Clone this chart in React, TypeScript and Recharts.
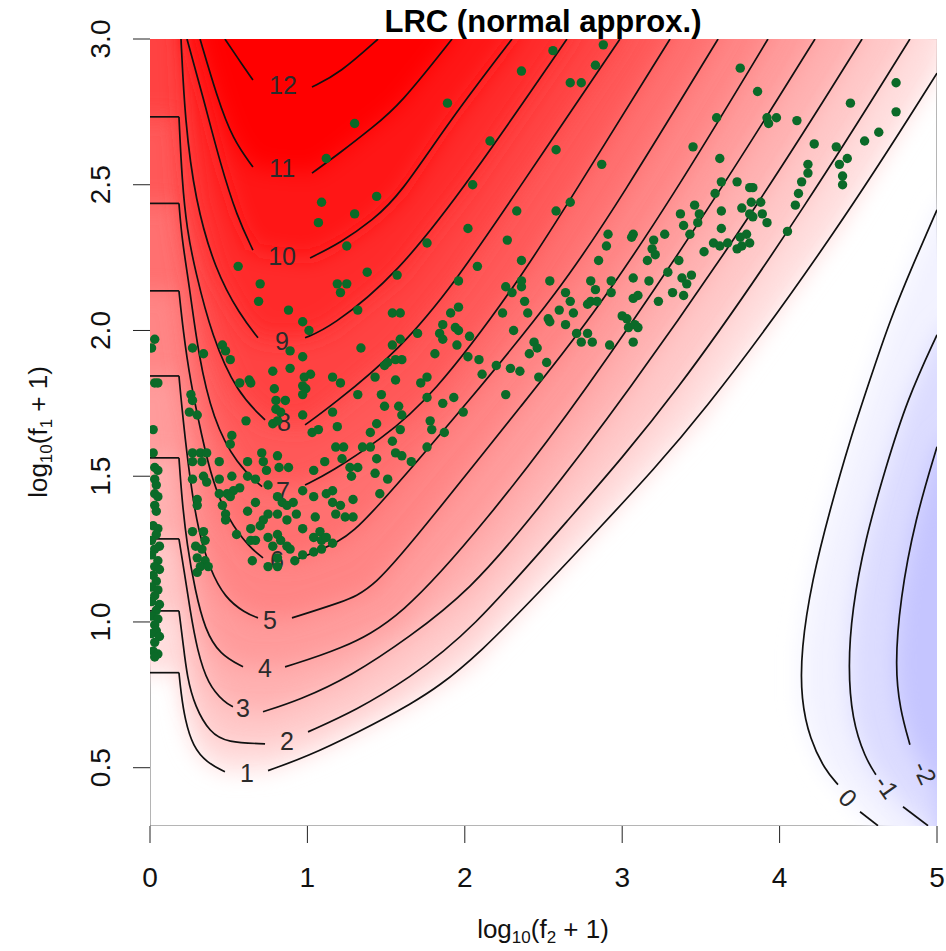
import { ScatterChart, Scatter, XAxis, YAxis, ReferenceArea } from "recharts";

type Pt = [number, number];

const xTicks = [0, 1, 2, 3, 4, 5];
const yTicks = [0.5, 1, 1.5, 2, 2.5, 3];

// contour levels of the LRC surface
const posLevels = [1, 2, 3, 4, 5, 6, 7, 8, 9, 10, 11, 12];
const negLevels = [0, -1, -2];

// contours 1..8 jump at the first grid column (f2 = 0)
const stepY = [0.826, 1.038, 1.285, 1.563, 1.844, 2.136, 2.436, 2.733];
const stepX = 0.184;

// each contour: part before its label, part after it
const c1a: Pt[] = [[0.184, 0.826], [0.197, 0.757], [0.222, 0.665], [0.273, 0.572], [0.362, 0.517], [0.476, 0.486]];
const c1b: Pt[] = [[0.75, 0.49], [0.997, 0.538], [1.315, 0.62], [1.633, 0.709], [2.033, 0.846], [2.903, 1.35], [3.494, 1.693], [4.384, 2.355], [5.0, 2.883]];
const c2a: Pt[] = [[0.184, 1.038], [0.21, 0.929], [0.235, 0.812], [0.286, 0.709], [0.381, 0.62], [0.489, 0.586], [0.731, 0.582]];
const c2b: Pt[] = [[1.004, 0.623], [1.315, 0.699], [1.633, 0.802], [2.033, 0.963], [2.656, 1.35], [3.323, 1.762], [4.193, 2.448], [4.828, 3.0]];
const c3a: Pt[] = [[0.184, 1.285], [0.216, 1.179], [0.254, 1.042], [0.299, 0.905], [0.368, 0.785], [0.476, 0.723], [0.527, 0.709]];
const c3b: Pt[] = [[0.718, 0.692], [0.953, 0.733], [1.271, 0.812], [1.652, 0.949], [2.033, 1.11], [2.414, 1.35], [3.005, 1.762], [3.888, 2.448], [4.524, 3.0]];
const c4a: Pt[] = [[0.184, 1.563], [0.203, 1.419], [0.235, 1.265], [0.286, 1.11], [0.349, 0.973], [0.445, 0.887], [0.591, 0.846]];
const c4b: Pt[] = [[0.858, 0.846], [1.207, 0.905], [1.588, 1.008], [2.141, 1.35], [2.732, 1.762], [3.59, 2.448], [4.225, 3.0]];
const c5a: Pt[] = [[0.184, 1.844], [0.21, 1.693], [0.254, 1.488], [0.305, 1.316], [0.381, 1.179], [0.476, 1.083], [0.604, 1.031], [0.686, 1.014]];
const c5b: Pt[] = [[0.902, 1.014], [1.207, 1.066], [1.417, 1.11], [1.779, 1.35], [2.389, 1.762], [2.795, 2.036], [3.31, 2.448], [3.926, 3.0]];
const c6a: Pt[] = [[0.184, 2.136], [0.21, 2.002], [0.254, 1.831], [0.33, 1.635], [0.394, 1.488], [0.496, 1.35], [0.635, 1.254], [0.718, 1.22]];
const c6b: Pt[] = [[0.921, 1.213], [1.207, 1.272], [1.379, 1.35], [2.033, 1.762], [2.605, 2.139], [2.986, 2.448], [3.609, 3.0]];
const c7a: Pt[] = [[0.184, 2.436], [0.203, 2.311], [0.254, 2.139], [0.305, 1.923], [0.4, 1.693], [0.553, 1.539], [0.712, 1.464]];
const c7b: Pt[] = [[0.985, 1.47], [1.144, 1.512], [1.461, 1.625], [1.779, 1.762], [2.351, 2.174], [2.668, 2.448], [3.304, 3.0]];
const c8a: Pt[] = [[0.184, 2.733], [0.203, 2.516], [0.235, 2.345], [0.286, 2.208], [0.394, 1.978], [0.553, 1.786], [0.731, 1.693]];
const c8b: Pt[] = [[0.985, 1.676], [1.144, 1.738], [1.588, 1.933], [1.95, 2.174], [2.294, 2.448], [2.986, 3.0]];
const c9a: Pt[] = [[0.197, 3.0], [0.222, 2.722], [0.286, 2.448], [0.413, 2.208], [0.572, 2.053], [0.686, 1.975]];
const c9b: Pt[] = [[0.985, 1.975], [1.144, 2.009], [1.569, 2.191], [2.033, 2.516], [2.649, 3.0]];
const c10a: Pt[] = [[0.235, 3.0], [0.337, 2.801], [0.445, 2.575], [0.553, 2.39], [0.654, 2.276]];
const c10b: Pt[] = [[1.017, 2.249], [1.207, 2.3], [1.417, 2.379], [1.588, 2.465], [1.906, 2.722], [2.3, 3.0]];
const c11a: Pt[] = [[0.318, 3.0], [0.426, 2.801], [0.527, 2.654], [0.654, 2.561]];
const c11b: Pt[] = [[1.029, 2.54], [1.207, 2.609], [1.417, 2.698], [1.588, 2.774], [1.919, 3.0]];
const c12a: Pt[] = [[0.476, 3.0], [0.553, 2.938], [0.654, 2.859]];
const c12b: Pt[] = [[1.029, 2.835], [1.207, 2.883], [1.449, 3.0]];

const n0a: Pt[] = [[5.0, 2.414], [4.86, 2.242], [4.701, 2.036], [4.574, 1.831], [4.447, 1.625], [4.32, 1.385], [4.206, 1.145], [4.136, 0.905], [4.136, 0.733], [4.193, 0.596], [4.288, 0.493], [4.371, 0.442]];
const n0b: Pt[] = [[4.511, 0.349], [4.625, 0.301]];
const n1a: Pt[] = [[5.0, 1.985], [4.809, 1.762], [4.67, 1.522], [4.543, 1.282], [4.46, 1.042], [4.435, 0.846], [4.46, 0.665], [4.543, 0.534], [4.612, 0.476]];
const n1b: Pt[] = [[4.784, 0.366], [4.943, 0.301]];
const n2a: Pt[] = [[5.0, 1.601], [4.86, 1.35], [4.765, 1.076], [4.733, 0.846], [4.765, 0.699], [4.828, 0.579]];
const n2b: Pt[] = [[5.0, 0.43]];

const labelText = ["1", "2", "3", "4", "5", "6", "7", "8", "9", "10", "11", "12", "0", "-1", "-2"];
const labelX = [0.616, 0.87, 0.591, 0.731, 0.762, 0.807, 0.845, 0.851, 0.839, 0.839, 0.839, 0.845, 4.435, 4.682, 4.924];
const labelY = [0.483, 0.593, 0.706, 0.843, 1.008, 1.213, 1.45, 1.687, 1.964, 2.256, 2.558, 2.842, 0.397, 0.435, 0.483];
const labelAngle = [0, 0, 0, 0, 0, 0, 0, 0, 0, 0, 0, 0, 45, 55, 65];

// observed genes (green dots)
const upperBand: Pt[] = [
  [1.3, 2.71], [1.12, 2.59], [1.44, 2.46], [1.09, 2.44], [1.3, 2.4], [1.07, 2.37], [1.25, 2.29], [0.56, 2.22],
  [2.88, 2.98], [2.56, 2.96], [2.36, 2.89], [2.83, 2.91], [2.67, 2.85], [2.74, 2.85], [1.89, 2.78], [2.16, 2.65],
  [2.58, 2.62], [2.87, 2.57], [2.05, 2.5], [2.67, 2.44], [2.33, 2.41], [2.58, 2.41], [2.02, 2.35], [1.76, 2.3],
  [2.27, 2.31], [2.08, 2.22], [2.36, 2.24],
  [3.75, 2.9], [3.86, 2.82], [3.6, 2.73], [3.92, 2.73], [3.98, 2.73], [3.93, 2.71], [4.11, 2.72], [3.45, 2.63],
  [3.62, 2.59], [4.22, 2.64], [4.36, 2.63], [4.54, 2.65], [4.63, 2.68], [4.74, 2.85], [4.74, 2.75], [4.45, 2.78],
  [4.43, 2.59], [4.38, 2.57], [4.18, 2.57], [4.18, 2.54], [4.14, 2.51], [4.4, 2.53], [4.4, 2.5], [3.63, 2.51],
  [3.73, 2.51], [3.81, 2.49], [3.83, 2.49], [4.12, 2.47], [3.59, 2.47],
];
const ridgeBand: Pt[] = [
  [3.46, 2.43], [3.82, 2.44], [3.88, 2.44], [4.1, 2.43], [3.63, 2.41], [3.76, 2.42], [3.81, 2.4], [3.37, 2.4],
  [3.39, 2.36], [3.49, 2.4], [3.48, 2.37], [3.43, 2.33], [3.83, 2.39], [3.89, 2.4], [3.92, 2.37], [4.05, 2.34],
  [3.63, 2.35], [3.58, 2.3], [3.62, 2.29], [3.67, 2.3], [3.73, 2.28], [3.75, 2.32], [3.79, 2.33], [3.81, 2.3],
  [3.76, 2.29], [3.52, 2.27], [2.91, 2.33], [2.9, 2.29], [3.07, 2.33], [3.06, 2.32], [3.2, 2.31], [3.19, 2.28],
  [3.21, 2.26], [3.16, 2.24], [3.27, 2.33], [3.36, 2.24], [3.29, 2.2], [2.85, 2.24], [2.8, 2.17], [2.83, 2.14],
  [2.93, 2.17], [2.93, 2.13], [3.07, 2.18], [3.17, 2.17], [3.38, 2.18], [3.41, 2.16], [3.44, 2.19], [3.32, 2.13],
  [3.39, 2.12], [3.23, 2.1], [3.07, 2.11], [3.1, 2.12], [2.8, 2.1], [2.84, 2.1], [2.78, 2.09], [3.0, 2.05],
  [3.03, 2.04], [3.04, 2.01], [3.08, 2.02], [3.1, 2.01], [2.78, 1.99], [2.74, 1.96], [2.81, 1.96], [2.92, 1.95],
  [3.07, 1.96],
  [1.38, 2.2], [1.57, 2.19], [1.19, 2.16], [1.25, 2.16], [1.21, 2.13], [1.32, 2.07], [1.54, 2.06], [1.59, 2.06],
  [1.34, 1.94], [1.54, 1.95], [1.59, 1.97], [1.7, 1.99], [1.86, 2.02], [1.84, 1.99], [1.94, 2.01], [1.96, 2.0],
  [1.86, 1.97], [1.95, 1.95], [2.03, 1.98], [1.96, 2.08], [1.91, 2.06], [1.96, 2.17], [2.26, 2.15], [2.3, 2.13],
  [2.36, 2.15], [2.36, 2.17], [2.38, 2.1], [2.24, 2.06], [2.4, 2.06], [2.54, 2.17], [2.64, 2.13], [2.67, 2.1],
  [2.6, 2.07], [2.69, 2.06], [2.53, 2.04], [2.54, 2.03], [2.64, 2.02], [2.71, 1.99], [2.31, 2.0], [2.44, 1.96],
  [2.46, 1.94], [2.41, 1.92], [2.52, 1.89], [2.47, 1.84], [2.29, 1.87], [2.35, 1.86], [2.2, 1.88], [2.11, 1.85],
  [2.02, 1.91], [2.09, 1.9], [1.51, 1.89], [1.56, 1.9], [1.6, 1.9], [1.49, 1.88], [1.43, 1.84], [1.56, 1.83],
  [1.16, 1.84], [1.21, 1.82], [1.32, 1.78], [1.47, 1.78], [1.49, 1.74], [1.58, 1.74], [1.6, 1.71], [1.59, 1.66],
  [1.76, 1.84], [1.72, 1.82], [1.81, 1.92], [1.76, 1.77], [1.86, 1.75], [1.93, 1.77], [1.99, 1.72], [1.78, 1.69],
  [1.79, 1.66], [1.87, 1.65], [2.26, 1.78], [1.16, 1.72], [1.19, 1.67], [1.44, 1.68], [1.4, 1.65], [1.35, 1.6],
  [1.4, 1.6], [1.18, 1.6], [1.23, 1.6], [1.22, 1.56], [1.27, 1.53], [1.32, 1.53], [1.28, 1.5], [1.44, 1.56],
  [1.43, 1.51], [1.51, 1.49], [1.54, 1.62], [1.56, 1.58], [1.6, 1.57], [1.66, 1.55], [1.76, 1.6], [1.46, 1.44],
  [1.29, 1.42], [1.16, 1.45], [1.16, 1.41], [1.21, 1.4], [1.18, 1.37], [1.24, 1.36], [1.29, 1.36],
];
const lowCluster: Pt[] = [
  [0.7, 2.16], [0.69, 2.1], [0.88, 2.07], [0.97, 2.03], [1.01, 2.0], [0.27, 1.94], [0.34, 1.92], [0.46, 1.95],
  [0.48, 1.93], [0.51, 1.9], [0.89, 1.93], [0.97, 1.91], [0.78, 1.86], [0.89, 1.87], [1.02, 1.85], [0.98, 1.84],
  [0.97, 1.81], [0.99, 1.8], [0.57, 1.82], [0.63, 1.83], [0.64, 1.82], [0.26, 1.78], [0.27, 1.76], [0.25, 1.72],
  [0.3, 1.71], [0.79, 1.8], [0.8, 1.76], [0.8, 1.73], [0.86, 1.76], [0.83, 1.72], [0.97, 1.78], [0.97, 1.71],
  [0.61, 1.69], [0.78, 1.68], [0.81, 1.69], [1.03, 1.65], [1.07, 1.66], [0.52, 1.64], [0.51, 1.61], [0.27, 1.58],
  [0.32, 1.58], [0.36, 1.58], [0.71, 1.58], [0.81, 1.57],
  [0.27, 1.55], [0.33, 1.55], [0.44, 1.55], [0.62, 1.55], [0.72, 1.55], [0.82, 1.53], [0.88, 1.53], [1.04, 1.52],
  [1.11, 1.55], [0.27, 1.49], [0.34, 1.5], [0.36, 1.48], [0.44, 1.49], [0.52, 1.5], [0.62, 1.5], [0.67, 1.49],
  [0.74, 1.52], [0.75, 1.47], [0.57, 1.46], [0.53, 1.45], [0.49, 1.44], [0.44, 1.44], [0.51, 1.43], [0.46, 1.4],
  [0.48, 1.37], [0.48, 1.35], [0.3, 1.42], [0.3, 1.4], [0.62, 1.38], [0.67, 1.41], [0.81, 1.43], [0.84, 1.41],
  [0.87, 1.4], [0.91, 1.41], [0.97, 1.45], [1.04, 1.43], [1.12, 1.44], [0.93, 1.37], [0.87, 1.35], [0.81, 1.37],
  [0.75, 1.37], [0.72, 1.35], [0.7, 1.33], [0.64, 1.32], [0.55, 1.3], [0.64, 1.28], [0.67, 1.28], [0.75, 1.29],
  [0.81, 1.3], [0.83, 1.28], [0.78, 1.26], [0.87, 1.26], [0.89, 1.25], [0.97, 1.32], [1.05, 1.36], [1.08, 1.31],
  [1.04, 1.29], [1.09, 1.28], [1.12, 1.29], [1.16, 1.27], [0.27, 1.31], [0.34, 1.31], [0.35, 1.28], [0.29, 1.26],
  [0.33, 1.25], [0.3, 1.22], [0.35, 1.21], [0.32, 1.19], [0.3, 1.17], [0.37, 1.19], [0.65, 1.21], [0.75, 1.19],
  [0.81, 1.19], [0.81, 1.22], [0.92, 1.21], [0.97, 1.23], [1.04, 1.24], [1.09, 1.25],
];
const edgeColumn: Pt[] = [
  [0.03, 1.97], [0.01, 1.94], [0.03, 1.82], [0.05, 1.82], [0.02, 1.66], [0.02, 1.58], [0.03, 1.53], [0.05, 1.52],
  [0.03, 1.49], [0.04, 1.47], [0.03, 1.44], [0.05, 1.43], [0.03, 1.4], [0.04, 1.38], [0.02, 1.33], [0.05, 1.32],
  [0.04, 1.3], [0.01, 1.28], [0.06, 1.26], [0.03, 1.25], [0.01, 1.23], [0.05, 1.21], [0.03, 1.19], [0.06, 1.18],
  [0.02, 1.16], [0.04, 1.14], [0.01, 1.12], [0.05, 1.11], [0.03, 1.09], [0.01, 1.07], [0.06, 1.06], [0.04, 1.04],
  [0.01, 1.02], [0.05, 1.01], [0.03, 0.99], [0.04, 0.97], [0.01, 0.96], [0.06, 0.95], [0.03, 0.93], [0.02, 0.9],
  [0.05, 0.89], [0.03, 0.88],
];

const posParts: [Pt[], Pt[]][] = [
  [c1a, c1b], [c2a, c2b], [c3a, c3b], [c4a, c4b], [c5a, c5b], [c6a, c6b],
  [c7a, c7b], [c8a, c8b], [c9a, c9b], [c10a, c10b], [c11a, c11b], [c12a, c12b],
];
const negParts: [Pt[], Pt[]][] = [[n0a, n0b], [n1a, n1b], [n2a, n2b]];

const FONT = "'Liberation Sans', Arial, Helvetica, sans-serif";

// white -> red for positive, white -> blue for negative
const heat = (v: number) => {
  const t = Math.min(Math.abs(v) / 11.5, 1);
  const c = Math.round(255 * (1 - t));
  return v >= 0 ? `rgb(255,${c},${c})` : `rgb(${c},${c},255)`;
};

const toRows = (pts: Pt[]) => pts.map(([x, y]) => ({ x, y }));

// regions {value >= level}, closed outside the plot so the blur has no edge inside
const posFills = posLevels.map((lv, i) => {
  const [a, b] = posParts[i];
  const pts: Pt[] = [];
  if (i < stepY.length) pts.push([-0.4, stepY[i]], [stepX, stepY[i]]);
  else pts.push([a[0][0] - 0.05, 3.4]);
  pts.push(...a, ...b);
  const last = b[b.length - 1];
  pts.push([last[0] + 0.3, 3.4], [-0.4, 3.4]);
  return { level: lv, color: heat(lv + 0.5), pts };
});
const negFills = negLevels.map((lv, i) => {
  const [a, b] = negParts[i];
  const last = b[b.length - 1];
  const pts: Pt[] = [[5.4, a[0][1] + 0.2], ...a, ...b, [last[0] + 0.1, 0.0], [5.4, 0.0]];
  return { level: lv, color: heat(lv - 0.6), pts };
});

const noDot = () => <g />;

const fillPath = (color: string) => (props: any) => {
  const pts = (props.points || []) as { x: number; y: number }[];
  if (!pts.length) return <g />;
  const d = pts.map((p, i) => `${i ? "L" : "M"}${p.x.toFixed(1)},${p.y.toFixed(1)}`).join("") + "Z";
  return <path d={d} fill={color} stroke="none" filter="url(#soften)" />;
};

const GeneDot = (p: any) => <circle cx={p.cx} cy={p.cy} r={4.7} fill="#0b6a28" />;

const LevelLabel = (p: any) => {
  const { cx, cy, payload } = p;
  return (
    <text
      x={cx}
      y={cy}
      dy={9}
      textAnchor="middle"
      fontSize={25}
      fill="#2b2b2b"
      fontFamily={FONT}
      transform={payload.angle ? `rotate(${payload.angle} ${cx} ${cy})` : undefined}
    >
      {payload.text}
    </text>
  );
};

const XTick = (p: any) => (
  <text x={p.x} y={p.y + 44} textAnchor="middle" fontSize={28} fontFamily={FONT} fill="#111">
    {p.payload.value}
  </text>
);

const YTick = (p: any) => {
  const x = p.x - 23;
  return (
    <text x={x} y={p.y} transform={`rotate(-90 ${x} ${p.y})`} textAnchor="middle" fontSize={28} fontFamily={FONT} fill="#111">
      {Number(p.payload.value).toFixed(1)}
    </text>
  );
};

const labels = labelText.map((text, i) => ({ x: labelX[i], y: labelY[i], text, angle: labelAngle[i] }));

export default function App() {
  const strokes: Pt[][] = [];
  [...posParts, ...negParts].forEach(([a, b]) => {
    if (a.length > 1) strokes.push(a);
    if (b.length > 1) strokes.push(b);
  });

  return (
    <div style={{ position: "absolute", left: 0, top: 0, width: 946, height: 951, background: "#fff" }}>
      <ScatterChart width={946} height={951} margin={{ top: 39, right: 9, left: 0, bottom: 0 }}>
        <defs>
          <filter id="soften" x="-20%" y="-20%" width="140%" height="140%">
            <feGaussianBlur stdDeviation={11} />
          </filter>
        </defs>
        <XAxis
          type="number"
          dataKey="x"
          domain={[0, 5]}
          ticks={xTicks}
          interval={0}
          allowDataOverflow
          axisLine={false}
          tickLine={{ stroke: "#222" }}
          tickSize={17}
          tickMargin={0}
          height={125}
          tick={XTick}
        />
        <YAxis
          type="number"
          dataKey="y"
          domain={[0.3, 3]}
          ticks={yTicks}
          interval={0}
          allowDataOverflow
          axisLine={false}
          tickLine={{ stroke: "#222" }}
          tickSize={17}
          tickMargin={0}
          width={150}
          tick={YTick}
        />

        {posFills.map((f) => (
          <Scatter
            key={`pf${f.level}`}
            data={toRows(f.pts)}
            line={fillPath(f.color)}
            shape={noDot}
            isAnimationActive={false}
            legendType="none"
          />
        ))}
        {negFills.map((f) => (
          <Scatter
            key={`nf${f.level}`}
            data={toRows(f.pts)}
            line={fillPath(f.color)}
            shape={noDot}
            isAnimationActive={false}
            legendType="none"
          />
        ))}

        {stepY.map((y, i) => (
          <Scatter
            key={`st${i}`}
            data={[{ x: 0, y }, { x: stepX, y }]}
            line={{ stroke: "#111", strokeWidth: 1.7 }}
            shape={noDot}
            isAnimationActive={false}
            legendType="none"
          />
        ))}
        {strokes.map((pts, i) => (
          <Scatter
            key={`cl${i}`}
            data={toRows(pts)}
            line={{ stroke: "#111", strokeWidth: 1.7 }}
            lineJointType="basis"
            shape={noDot}
            isAnimationActive={false}
            legendType="none"
          />
        ))}

        <Scatter data={labels} shape={LevelLabel} isAnimationActive={false} legendType="none" />

        <Scatter data={toRows(upperBand)} shape={GeneDot} isAnimationActive={false} legendType="none" />
        <Scatter data={toRows(ridgeBand)} shape={GeneDot} isAnimationActive={false} legendType="none" />
        <Scatter data={toRows(lowCluster)} shape={GeneDot} isAnimationActive={false} legendType="none" />
        <Scatter data={toRows(edgeColumn)} shape={GeneDot} isAnimationActive={false} legendType="none" />

        <ReferenceArea x1={0} x2={5} y1={0.3} y2={3} fill="none" stroke="#6a6a6a" strokeWidth={1} ifOverflow="hidden" />

        <text x={543} y={32} textAnchor="middle" fontSize={31} fontWeight="bold" fontFamily={FONT} fill="#000">
          LRC (normal approx.)
        </text>
        <text x={543} y={938} textAnchor="middle" fontSize={26} fontFamily={FONT} fill="#111">
          log
          <tspan fontSize={17} dy={5}>10</tspan>
          <tspan dy={-5}>(f</tspan>
          <tspan fontSize={17} dy={5}>2</tspan>
          <tspan dy={-5}> + 1)</tspan>
        </text>
        <text
          x={47}
          y={432}
          transform="rotate(-90 47 432)"
          textAnchor="middle"
          fontSize={26}
          fontFamily={FONT}
          fill="#111"
        >
          log
          <tspan fontSize={17} dy={5}>10</tspan>
          <tspan dy={-5}>(f</tspan>
          <tspan fontSize={17} dy={5}>1</tspan>
          <tspan dy={-5}> + 1)</tspan>
        </text>
      </ScatterChart>
    </div>
  );
}
